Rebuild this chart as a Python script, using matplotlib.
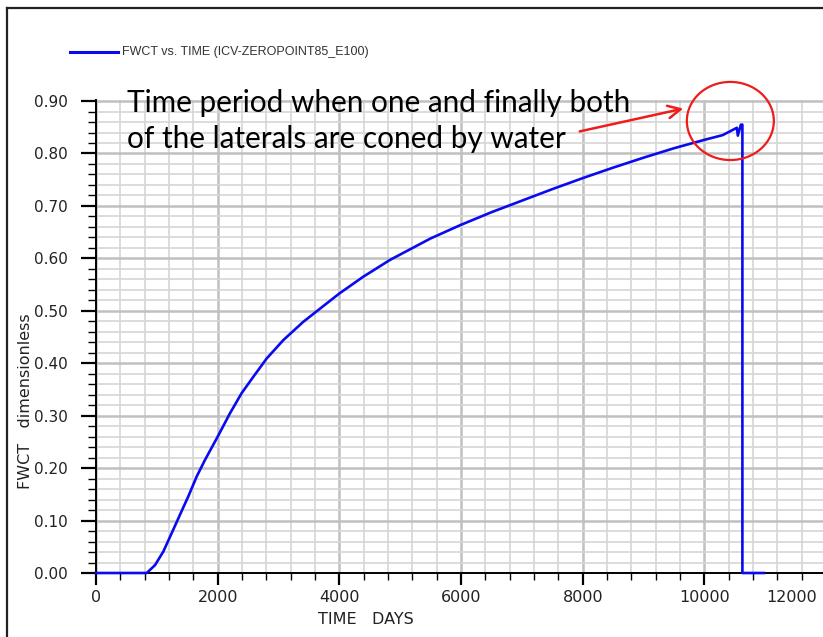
import numpy as np
import matplotlib
matplotlib.use("Agg")
import matplotlib.pyplot as plt
from matplotlib.lines import Line2D
from matplotlib.patches import Ellipse
from matplotlib.ticker import MultipleLocator, FixedLocator

# FWCT history of the well (days, fraction)
time_days = [0, 833, 970, 1107, 1244, 1380, 1517, 1655, 1791, 2000, 2202,
             2394, 2585, 2805, 3078, 3407, 3736, 4000, 4393, 4832, 5500,
             6000, 6500, 7000, 7500, 8000, 8500, 9000, 9500, 10000, 10300,
             10534, 10550, 10600, 10625, 10625, 10980]
fwct = [0.0, 0.0, 0.015, 0.041, 0.076, 0.111, 0.146, 0.184, 0.2155, 0.26,
        0.3045, 0.343, 0.374, 0.409, 0.444, 0.479, 0.509, 0.533, 0.565,
        0.597, 0.638, 0.664, 0.688, 0.71, 0.732, 0.753, 0.773, 0.792, 0.81,
        0.826, 0.835, 0.849, 0.834, 0.855, 0.855, 0.0, 0.0]

x_ticks = [0, 2000, 4000, 6000, 8000, 10000]
y_ticks = [0.0, 0.1, 0.2, 0.3, 0.4, 0.5, 0.6, 0.7, 0.8, 0.9]
series_label = "FWCT vs. TIME (ICV-ZEROPOINT85_E100)"
note = "Time period when one and finally both\nof the laterals are coned by water"

# circled region at the end of the run (days, fraction)
circle_center = (10427, 0.862)
circle_size = (1430, 0.149)

W, H = 823, 637
fig = plt.figure(figsize=(W / 100, H / 100), dpi=100)
ax = fig.add_axes([96 / W, 1 - 573 / H, (W - 96) / W, (573 - 100) / H])

ax.plot(time_days, fwct, color="#0a0af0", lw=1.9, zorder=5, clip_on=False)

ax.set_xlim(0, 11950)
ax.set_ylim(0, 0.902)
ax.xaxis.set_major_locator(FixedLocator(x_ticks))
ax.xaxis.set_minor_locator(MultipleLocator(400))
ax.yaxis.set_major_locator(FixedLocator(y_ticks))
ax.yaxis.set_minor_locator(MultipleLocator(0.02))
ax.set_xticklabels([str(t) for t in x_ticks])
ax.set_yticklabels([f"{v:.2f}" for v in y_ticks])

ax.grid(which="major", color="#c0c0c0", lw=1.8)
ax.grid(which="minor", color="#d6d6d6", lw=1.2)
ax.set_axisbelow(True)
for s in ("top", "right"):
    ax.spines[s].set_visible(False)
for s in ("left", "bottom"):
    ax.spines[s].set_color("black")
    ax.spines[s].set_linewidth(1.4)

ax.tick_params(axis="y", which="major", length=10.5, width=1.6, pad=10,
               labelsize=11, labelcolor="#222222")
ax.tick_params(axis="y", which="minor", length=6, width=1.0)
ax.tick_params(axis="x", which="major", length=8.5, width=1.6, pad=4,
               labelsize=11.5, labelcolor="#222222")
ax.tick_params(axis="x", which="minor", length=5, width=1.0)

# last tick label sits inside the frame
ax.annotate("12000", xy=(11440, 0), xycoords=("data", "axes fraction"),
            xytext=(0, -17), textcoords="offset pixels", ha="center",
            va="top", fontsize=11.5, color="#222222", annotation_clip=False)

fig.text(26 / W, 1 - 401 / H, "FWCT   dimensionless", rotation=90,
         ha="center", va="center", fontsize=11.5, color="#222222")
fig.text(366 / W, 1 - 620 / H, "TIME   DAYS", ha="center", va="center",
         fontsize=11.5, color="#222222")

# legend entry
fig.add_artist(Line2D([70 / W, 118 / W], [1 - 52 / H, 1 - 52 / H],
                      color="#0a0af0", lw=2.2))
fig.text(122 / W, 1 - 52 / H, series_label, ha="left", va="center",
         fontsize=9, family="Liberation Sans", color="#333333")

# outer frame
fig.add_artist(Line2D([7 / W, 1], [1 - 8 / H, 1 - 8 / H], color="#222222",
                      lw=1.6))
fig.add_artist(Line2D([7 / W, 7 / W], [0, 1 - 8 / H], color="#222222",
                      lw=1.6))

# callout
fig.text(127 / W, 1 - 89 / H, note, ha="left", va="top", fontsize=21.4,
         family="Lato", color="black", linespacing=1.36)
ax.add_patch(Ellipse(circle_center, *circle_size, fill=False,
                     edgecolor="#ee1c1c", lw=1.6, clip_on=False, zorder=6))
ax.annotate("", xy=(686 / W, 1 - 108 / H), xycoords="figure fraction",
            xytext=(577 / W, 1 - 132 / H), textcoords="figure fraction",
            arrowprops=dict(arrowstyle="->,head_length=0.9,head_width=0.45",
                            color="#ee1c1c", lw=1.8))

fig.savefig("out.png", dpi=100)
